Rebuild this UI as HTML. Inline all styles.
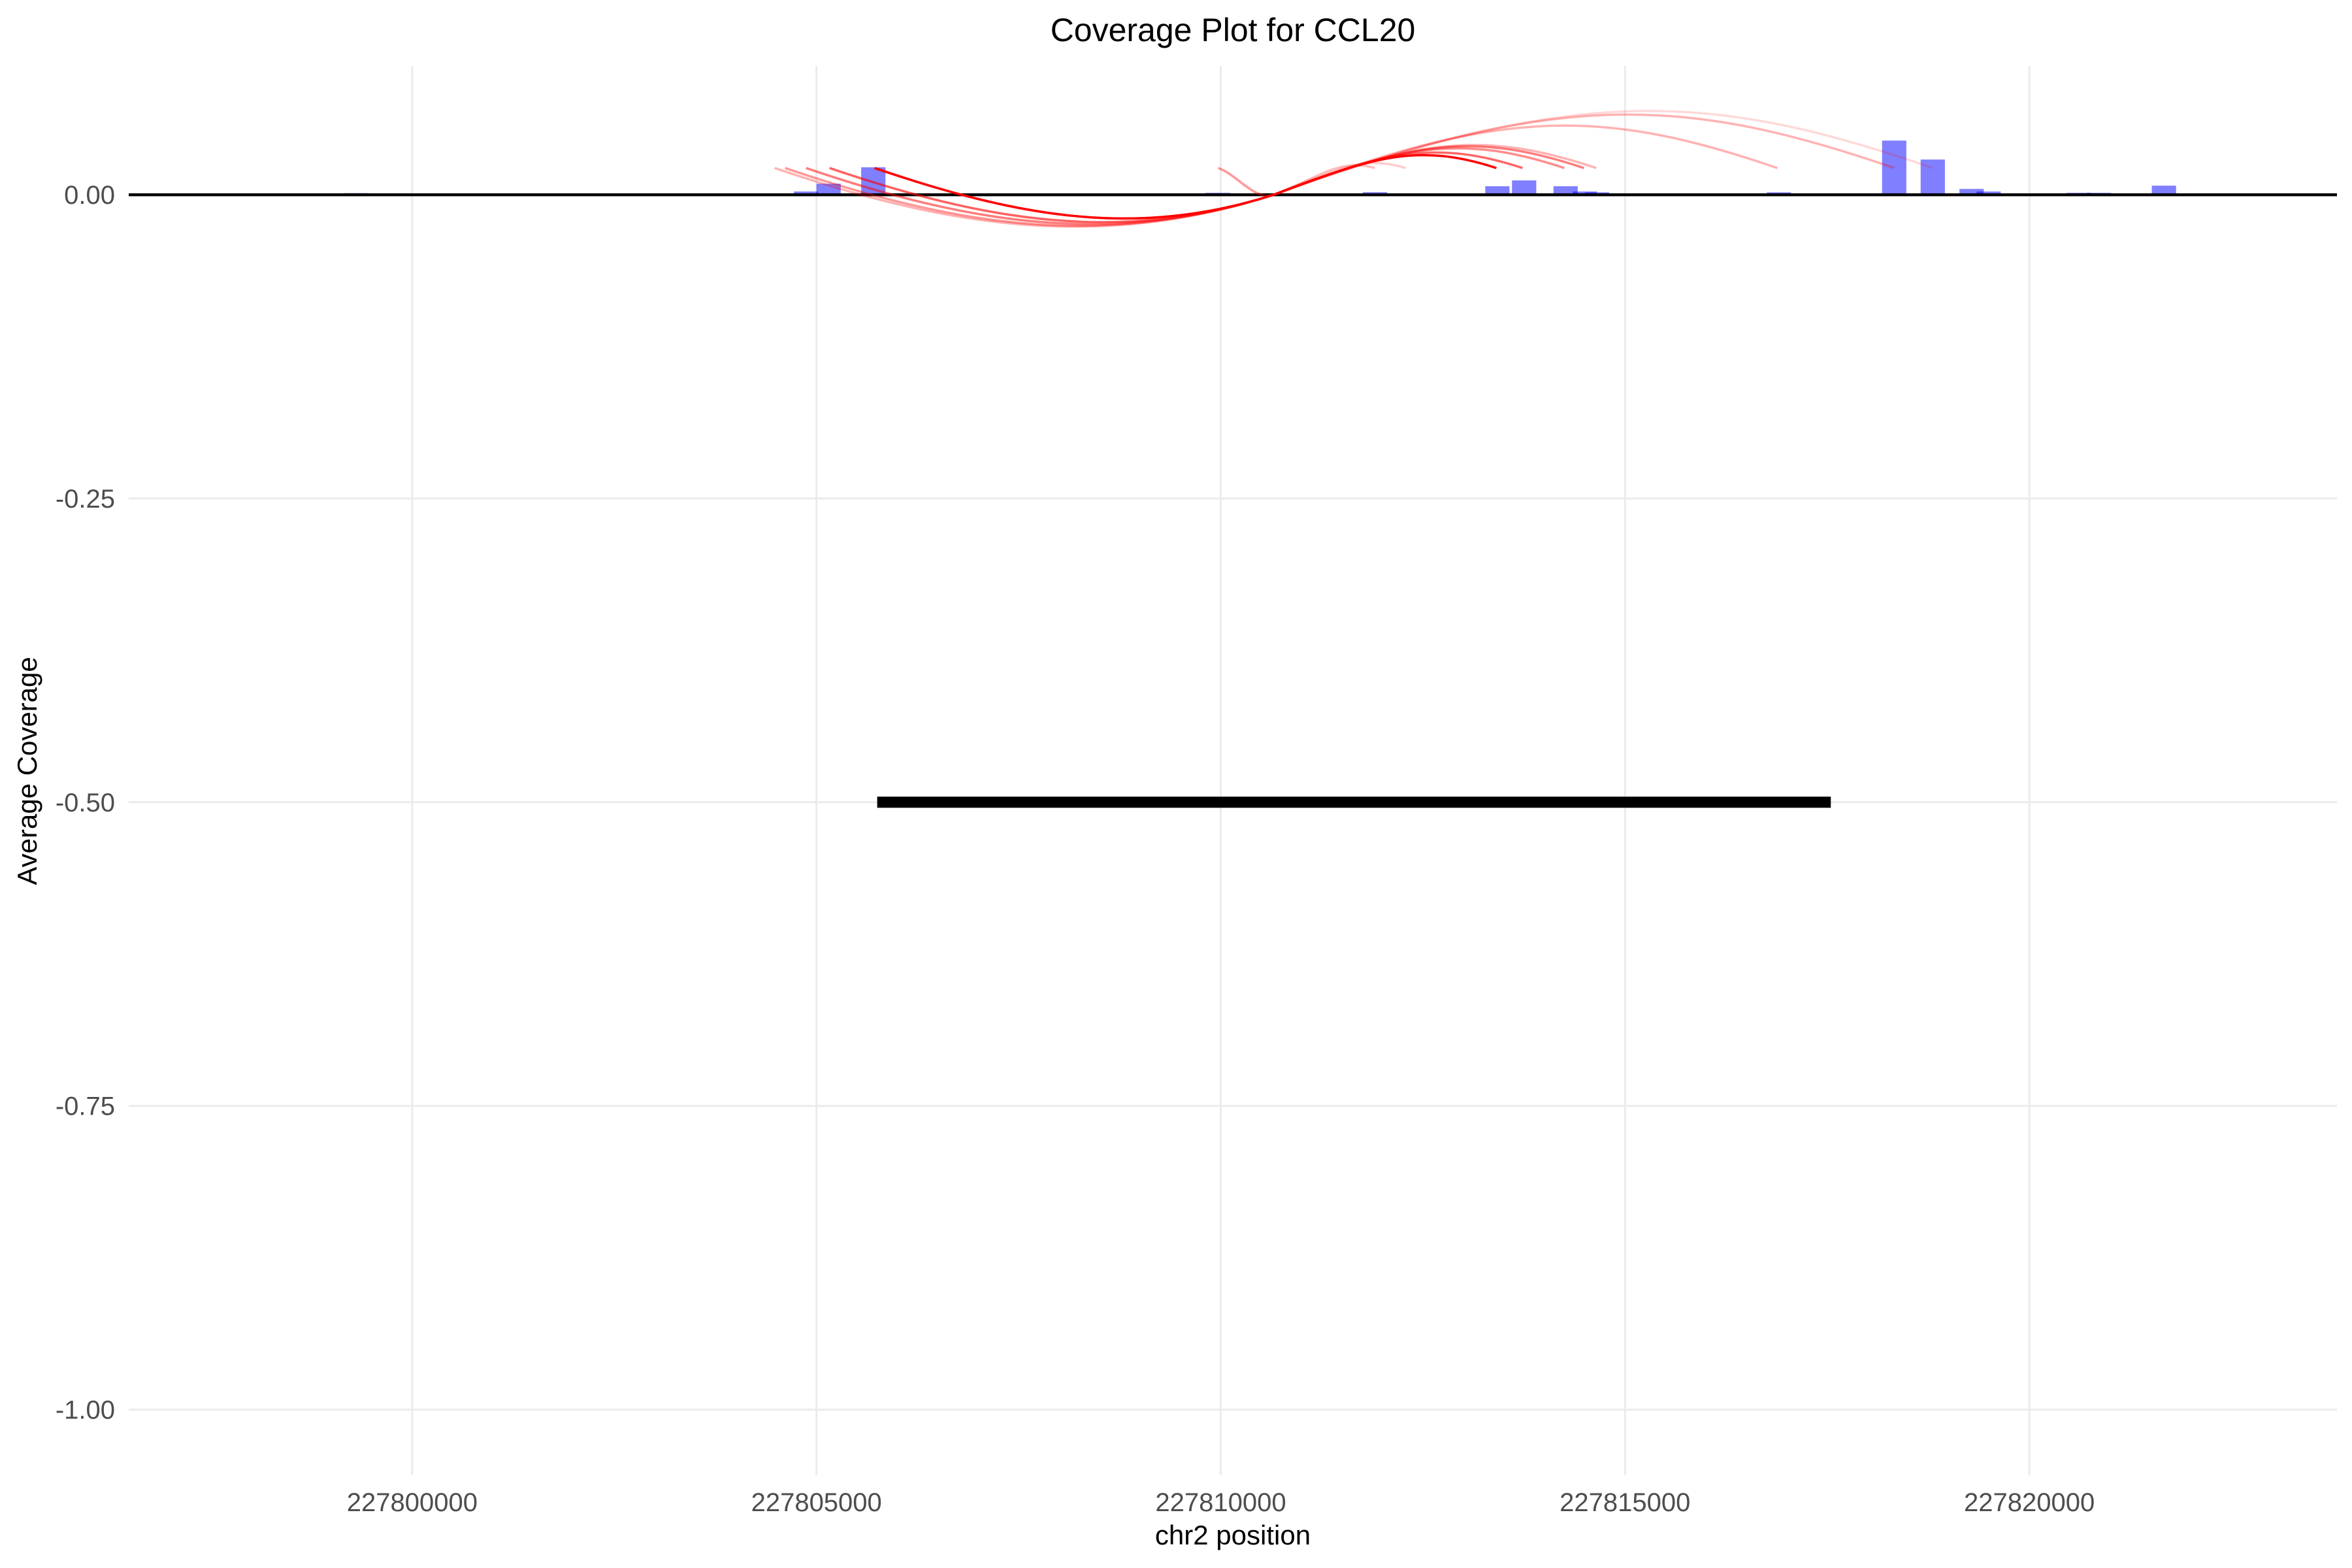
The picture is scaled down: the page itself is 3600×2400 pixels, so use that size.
<!DOCTYPE html>
<html><head><meta charset="utf-8"><style>
html,body{margin:0;padding:0;background:#fff;}
svg{display:block;font-family:"Liberation Sans",Arial,sans-serif;}
</style></head><body>
<svg id="chart" width="3600" height="2400" viewBox="0 0 3600 2400" xmlns="http://www.w3.org/2000/svg">
<rect width="3600" height="2400" fill="#fff"/>
<text x="1887" y="63" text-anchor="middle" font-size="50" fill="#000">Coverage Plot for CCL20</text>
<g id="grid"></g><g id="bars"></g><g id="zero"></g><g id="curves"></g><g id="gene"></g><g id="ticks"></g>
<text x="1887" y="2364" text-anchor="middle" font-size="42" fill="#000">chr2 position</text>
<text transform="translate(56,1180) rotate(-90)" text-anchor="middle" font-size="42" fill="#000">Average Coverage</text>
</svg>
<script>
const xTicks=[227800000,227805000,227810000,227815000,227820000];
const yTicks=[0,-0.25,-0.5,-0.75,-1.0];
const yTickLabels=["0.00","-0.25","-0.50","-0.75","-1.00"];
const barPos=[227799310,227800602,227801854,227802088,227802331,227802759,227804447,227804600,227804871,227805150,227805703,227809964,227811907,227812290,227813421,227813752,227814265,227814503,227814653,227816903,227818329,227818806,227819286,227819496,227820494,227820611,227820861,227821665];
const barVal=[0.0013,0.0003,0.0005,0.0011,0.0005,0.0005,0.0005,0.0006,0.0027,0.0091,0.0226,0.0016,0.0021,0.001,0.007,0.0118,0.007,0.0027,0.002,0.002,0.0446,0.029,0.0048,0.0027,0.001,0.0016,0.0016,0.0075];
const barWidthBp=300;
const curveStart=[227805719,227805719,227805162,227804871,227804612,227804483,227804871,227804612,227805162,227809968,227809968];
const curveEnd=[227813409,227813732,227814249,227814491,227814645,227816883,227818329,227818806,227814491,227811907,227812287];
const curveAlpha=[1,0.6,0.45,0.3,0.3,0.3,0.3,0.15,0.3,0.25,0.2];
const curveY=0.022;
const crossPos=227810655;
const geneStart=227805751, geneEnd=227817545, geneY=-0.5;

const X0=227796494, X1=227823805, PX0=197, PX1=3577;
const Y0=-1.054, Y1=0.106, PY0=2258, PY1=101;
const sx=v=>PX0+(v-X0)/(X1-X0)*(PX1-PX0);
const sy=v=>PY0+(v-Y0)/(Y1-Y0)*(PY1-PY0);
const NS="http://www.w3.org/2000/svg";
function mk(tag,parent,attrs){const e=document.createElementNS(NS,tag);for(const k in attrs)e.setAttribute(k,attrs[k]);document.getElementById(parent).appendChild(e);return e;}

xTicks.forEach((t,i)=>{
  const l=mk('line','grid',{x1:sx(t),x2:sx(t),y1:PY1,y2:PY0,stroke:'#ebebeb','stroke-width':3});
  
  
  const tx=mk('text','ticks',{x:sx(t),y:2313,'text-anchor':'middle','font-size':40,fill:'#4d4d4d'});
  tx.textContent=t;
  
  
});
yTicks.forEach((t,i)=>{
  const l=mk('line','grid',{x1:PX0,x2:PX1,y1:sy(t),y2:sy(t),stroke:'#ebebeb','stroke-width':3});
  
  
  const tx=mk('text','ticks',{x:176,y:sy(t)+14,'text-anchor':'end','font-size':40,fill:'#4d4d4d'});
  tx.textContent=yTickLabels[i];
  
  
});
barPos.forEach((p,i)=>{
  const x=sx(p-barWidthBp/2), w=sx(p+barWidthBp/2)-x, top=sy(barVal[i]);
  const r=mk('rect','bars',{x:x,y:top,width:w,height:Math.max(1,sy(0)-top),fill:'#0000ff','fill-opacity':0.5});
  
  
});
const z=mk('line','zero',{x1:PX0,x2:PX1,y1:sy(0),y2:sy(0),stroke:'#000','stroke-width':4.5});


curveStart.forEach((s,i)=>{
  const xs=sx(s), xe=sx(curveEnd[i]), y0=sy(curveY), cx=sx(crossPos), cy=sy(0);
  let d;
  if(xs<cx){
    const A=cx-xs, k=0.35*A, sl=0.32;
    const D=xe-cx, rise=0.094*D-8, peak=y0-rise;
    const q=(peak-0.125*(cy+y0))/0.75;
    const k2=0.45*D;
    d=`M${xs},${y0} C${xs+k},${y0+0.34*k} ${cx-k},${cy+sl*k} ${cx},${cy} C${cx+k2},${Math.max(q,cy-sl*k2*1.2)} ${xe-0.35*D},${q} ${xe},${y0}`;
  } else {
    const L=xe-xs;
    d=`M${xs},${y0} C${xs+0.35*L},${y0+55} ${xs+0.7*L},${y0-55} ${xe},${y0}`;
  }
  const p=mk('path','curves',{d:d,fill:'none',stroke:'#ff0000','stroke-opacity':curveAlpha[i],'stroke-width':3.5});
  
  
});
const g=mk('line','gene',{x1:sx(geneStart),x2:sx(geneEnd),y1:sy(geneY),y2:sy(geneY),stroke:'#000','stroke-width':17});


</script>
</body></html>
